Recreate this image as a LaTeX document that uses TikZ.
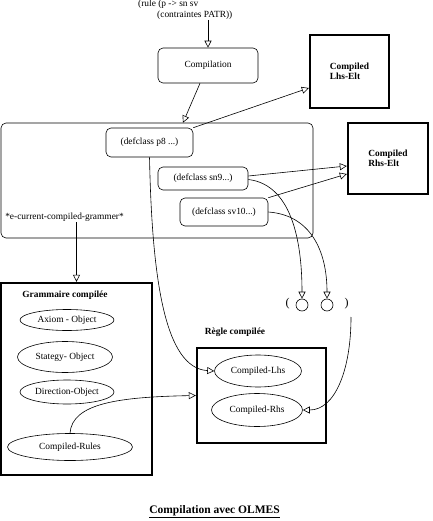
\documentclass[tikz,border=0pt]{standalone}
\usepackage{fontspec}
\setmainfont{Liberation Serif}
\usetikzlibrary{arrows.meta,shapes.geometric}
\begin{document}
\begin{tikzpicture}[x=1pt,y=-1pt,
  every node/.style={font=\fontsize{9.4}{10.5}\selectfont},
  arr/.style={line width=0.6pt,-{Triangle[open,length=7pt,width=7pt]}},
  ln/.style={line width=0.6pt},
  rbox/.style={draw,line width=0.6pt,rounded corners=5pt,inner sep=0pt},
  tbox/.style={draw,line width=2.4pt,inner sep=0pt},
  ell/.style={draw,ellipse,line width=0.6pt,inner sep=0pt},
  bt/.style={font=\fontsize{9.4}{10.5}\selectfont\bfseries}]
\useasboundingbox (0,0) rectangle (432,521);
% top text
\node[anchor=west,inner sep=0pt] (rule1) at (138,4.5) {(rule (p -> sn sv};
\node[anchor=west,inner sep=0pt] (rule2) at (157,15.5) {(contraintes PATR))};
\node[rbox,minimum width=100pt,minimum height=35pt] (comp) at (208,65.5) {Compilation};
\draw[arr] (rule2.south -| comp.north) -- (comp.north);
% Compiled elt boxes
\node[tbox,bt,align=left,minimum width=79pt,minimum height=73pt] (lhselt) at (349.5,71.5) {Compiled\\Lhs-Elt};
\node[tbox,bt,align=left,minimum width=80pt,minimum height=71pt] (rhselt) at (388,158.5) {Compiled\\Rhs-Elt};
% environment box
\node[rbox,minimum width=312pt,minimum height=115pt] (env) at (157,180.5) {};
\node[rbox,minimum width=87pt,minimum height=29pt] (p8) at (149.5,142.5) {(defclass p8 ...)};
\node[rbox,minimum width=90pt,minimum height=23pt] (sn9) at (203,178.5) {(defclass sn9...)};
\node[rbox,minimum width=88pt,minimum height=28pt] (sv10) at (224,212) {(defclass sv10...)};
\node[inner sep=1pt] (ecur) at (64.5,217) {*e-current-compiled-grammer*};
\draw[arr] ([xshift=-8pt]comp.south) -- ([xshift=26pt]env.north);
\draw[arr] (p8.north east) -- ([yshift=-16.5pt]lhselt.west);
\draw[arr] ([yshift=2.5pt]sn9.east) -- ([yshift=-7.5pt]rhselt.west);
\draw[arr] (sv10.north east) -- ([yshift=-15.5pt]rhselt.west);
% circles
\node[draw,circle,line width=0.6pt,minimum size=12pt,inner sep=0pt] (c1) at (302,305) {};
\node[draw,circle,line width=0.6pt,minimum size=12pt,inner sep=0pt] (c2) at (327,305) {};
\node[font=\fontsize{12}{14}\selectfont,inner sep=0pt] (lp) at (287.5,304) {(};
\node[font=\fontsize{12}{14}\selectfont,inner sep=0pt] (rp) at (346.5,304) {)};
\draw[arr] ([yshift=-1pt]sn9.east) .. controls (295,185) and (302,250) .. (c1.north);
\draw[arr] (sv10.east) .. controls (310,215) and (327,250) .. (c2.north);
% Grammaire compilee
\node[tbox,minimum width=151pt,minimum height=192pt] (gram) at (76.5,379) {};
\node[bt,inner sep=0pt] (gramt) at (65,295) {Grammaire compilée};
\node[ell,minimum width=94pt,minimum height=21pt] (axiom) at (67,320) {Axiom - Object};
\node[ell,minimum width=95pt,minimum height=31pt] (strat) at (65,357) {Stategy- Object};
\node[ell,minimum width=94pt,minimum height=24pt] (dir) at (67,392) {Direction-Object};
\node[ell,minimum width=125pt,minimum height=27pt] (rules) at (70,447) {Compiled-Rules};
\draw[arr] (ecur.south -| gram.north) -- (gram.north);
% Regle compilee
\node[tbox,minimum width=129pt,minimum height=95pt] (regle) at (261.5,395.5) {};
\node[bt,inner sep=0pt] (reglet) at (235,332) {Règle compilée};
\node[ell,minimum width=87pt,minimum height=32pt] (lhs) at (258,371) {Compiled-Lhs};
\node[ell,minimum width=91pt,minimum height=33pt] (rhs) at (257,410) {Compiled-Rhs};
\draw[arr] (p8.south) .. controls (152,280) and (165,368) .. (lhs.west);
\draw[arr] (rules.north) .. controls (72,403) and (120,397) .. (regle.west);
\coordinate (rs) at (351,317);
\draw[arr] (rs) .. controls (351,370) and (335,410) .. (rhs.east);
% title
\node[font=\fontsize{11.5}{13}\selectfont\bfseries] (title) at (214.5,512) {\underline{Compilation avec OLMES}};
\end{tikzpicture}
\end{document}
